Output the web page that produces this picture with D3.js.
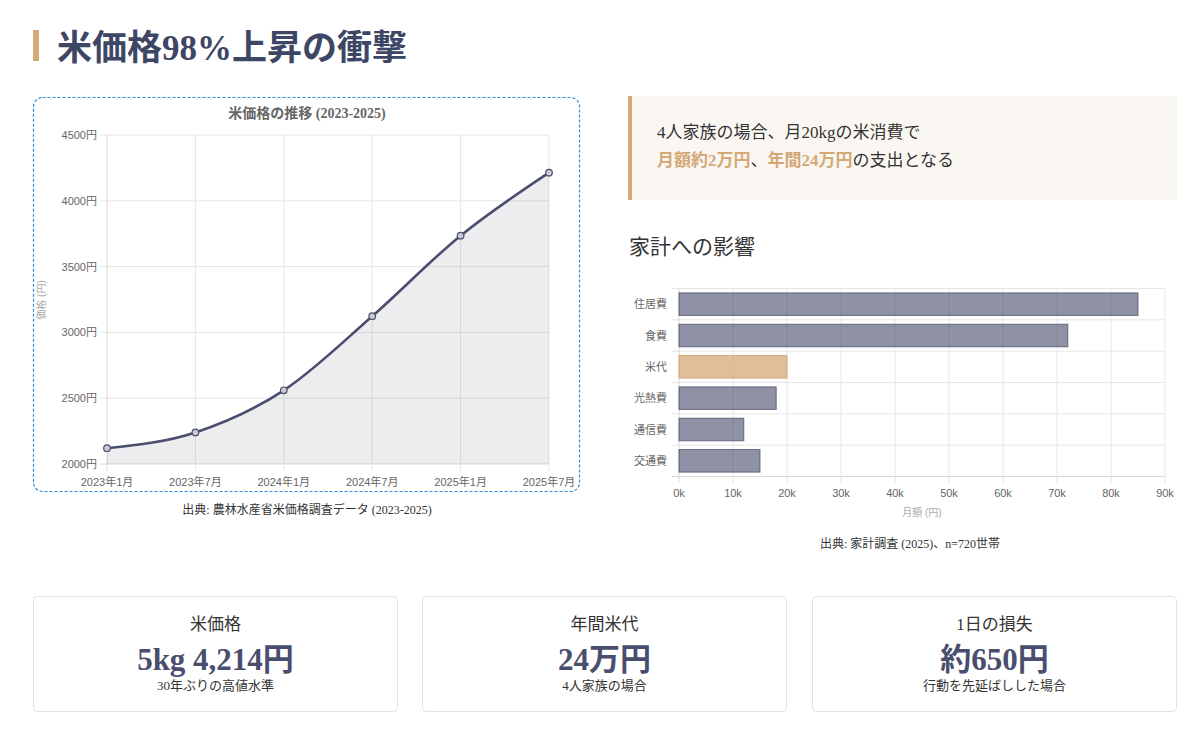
<!DOCTYPE html>
<html><head><meta charset="utf-8">
<script src="https://cdn.jsdelivr.net/npm/d3@7"></script>
<style>
html,body{margin:0;padding:0;background:#fff;}
svg{display:block;}
</style></head>
<body>
<svg id="c" width="1200" height="733"></svg>
<script>
// ---- data ----
const priceMonths = ["2023年1月","2023年7月","2024年1月","2024年7月","2025年1月","2025年7月"];
const priceValues = [2120, 2240, 2560, 3123, 3735, 4214];
const priceTicks = [2000, 2500, 3000, 3500, 4000, 4500];

const budgetCategories = ["住居費","食費","米代","光熱費","通信費","交通費"];
const budgetValues = [85000, 72000, 20000, 18000, 12000, 15000];
const budgetTicks = [0,10000,20000,30000,40000,50000,60000,70000,80000,90000];

const cardTitles = ["米価格","年間米代","1日の損失"];
const cardValues = ["5kg 4,214円","24万円","約650円"];
const cardNotes = ["30年ぶりの高値水準","4人家族の場合","行動を先延ばしした場合"];

// ---- style ----
const SERIF = "'Liberation Serif','DejaVu Serif','Noto Sans CJK JP',serif";
const SANS = "'Liberation Sans','Noto Sans CJK JP',sans-serif";
const NAVY = "#4a4e6e";
const TAN = "#d4a877";
const GRID = "#e6e6e6";

const svg = d3.select("#c");

// Title
svg.append("rect").attr("x",33).attr("y",30).attr("width",6).attr("height",31).attr("fill",TAN);
svg.append("text").attr("x",57).attr("y",60).attr("font-family",SERIF).attr("font-size",35)
  .attr("font-weight","bold").attr("fill","#3e4665").text("米価格98%上昇の衝撃");

// ---- Line chart ----
svg.append("rect").attr("x",33.5).attr("y",97.5).attr("width",546).attr("height",394)
  .attr("rx",9).attr("fill","none").attr("stroke","#2b8be0").attr("stroke-dasharray","3,2").attr("stroke-width",1.2);
svg.append("text").attr("x",307).attr("y",118).attr("text-anchor","middle")
  .attr("font-family",SERIF).attr("font-size",14).attr("font-weight","bold").attr("fill","#666")
  .text("米価格の推移 (2023-2025)");

const x = d3.scalePoint().domain(priceMonths).range([107,549]);
const y = d3.scaleLinear().domain([2000,4500]).range([464,135]);

const lg = svg.append("g");
lg.selectAll(".hg").data(priceTicks).join("line")
  .attr("x1",100).attr("x2",549).attr("y1",d=>y(d)).attr("y2",d=>y(d))
  .attr("stroke",d=>d===2000?"#d8d8d8":GRID).attr("stroke-width",1);
lg.selectAll(".vg").data(priceMonths).join("line")
  .attr("x1",d=>x(d)).attr("x2",d=>x(d)).attr("y1",135).attr("y2",471)
  .attr("stroke",(d,i)=>i===0?"#d8d8d8":GRID).attr("stroke-width",1);

const pts = priceMonths.map((m,i)=>[m,priceValues[i]]);
const curve = d3.curveMonotoneX;
lg.append("path").datum(pts)
  .attr("d", d3.area().x(d=>x(d[0])).y0(y(2000)).y1(d=>y(d[1])).curve(curve))
  .attr("fill","rgba(74,78,110,0.1)");
lg.append("path").datum(pts)
  .attr("d", d3.line().x(d=>x(d[0])).y(d=>y(d[1])).curve(curve))
  .attr("fill","none").attr("stroke",NAVY).attr("stroke-width",2.6);
lg.selectAll(".pt").data(pts).join("circle")
  .attr("cx",d=>x(d[0])).attr("cy",d=>y(d[1])).attr("r",3.3)
  .attr("fill","#c9cad4").attr("stroke",NAVY).attr("stroke-width",1.2);

lg.selectAll(".yl").data(priceTicks).join("text")
  .attr("x",97).attr("y",d=>y(d)+4).attr("text-anchor","end")
  .attr("font-family",SANS).attr("font-size",11).attr("fill","#666").text(d=>d+"円");
lg.selectAll(".xl").data(priceMonths).join("text")
  .attr("x",d=>x(d)).attr("y",486).attr("text-anchor","middle")
  .attr("font-family",SANS).attr("font-size",11).attr("fill","#666").text(d=>d);
lg.append("text").attr("transform","translate(45,300) rotate(-90)").attr("text-anchor","middle")
  .attr("font-family",SANS).attr("font-size",10).attr("fill","#aaa").text("価格 (円)");

svg.append("text").attr("x",307).attr("y",514).attr("text-anchor","middle")
  .attr("font-family",SERIF).attr("font-size",12).attr("fill","#333")
  .text("出典: 農林水産省米価格調査データ (2023-2025)");

// ---- Callout ----
svg.append("rect").attr("x",628).attr("y",96).attr("width",549).attr("height",104).attr("fill","#faf7f2");
svg.append("rect").attr("x",628).attr("y",96).attr("width",4).attr("height",104).attr("fill",TAN);
svg.append("text").attr("x",657).attr("y",138).attr("font-family",SERIF).attr("font-size",17).attr("fill","#333")
  .text("4人家族の場合、月20kgの米消費で");
const t2 = svg.append("text").attr("x",657).attr("y",166).attr("font-family",SERIF).attr("font-size",17).attr("fill","#333");
t2.append("tspan").attr("font-weight","bold").attr("fill",TAN).text("月額約2万円");
t2.append("tspan").text("、");
t2.append("tspan").attr("font-weight","bold").attr("fill",TAN).text("年間24万円");
t2.append("tspan").text("の支出となる");

svg.append("text").attr("x",629).attr("y",254).attr("font-family",SERIF).attr("font-size",21).attr("fill","#333")
  .text("家計への影響");

// ---- Bar chart ----
const bx = d3.scaleLinear().domain([0,90000]).range([679,1165]);
const by = d3.scaleBand().domain(budgetCategories).range([288.5,476.5]).paddingInner(0).paddingOuter(0);
const bg = svg.append("g");
const bounds = budgetCategories.map(c=>by(c)).concat([by.range()[1]]);
bg.selectAll(".bh").data(bounds).join("line")
  .attr("x1",672).attr("x2",1165).attr("y1",d=>d).attr("y2",d=>d)
  .attr("stroke",(d,i)=>i===bounds.length-1?"#d8d8d8":GRID);
bg.selectAll(".bv").data(budgetTicks).join("line")
  .attr("x1",d=>bx(d)).attr("x2",d=>bx(d)).attr("y1",288.5).attr("y2",483)
  .attr("stroke",(d,i)=>i===0?"#d8d8d8":GRID);
const bh = by.bandwidth()*0.72;
bg.selectAll(".bar").data(budgetCategories).join("rect")
  .attr("x",bx(0)).attr("y",c=>by(c)+(by.bandwidth()-bh)/2)
  .attr("width",(c,i)=>bx(budgetValues[i])-bx(0)).attr("height",bh)
  .attr("fill",c=>c==="米代"?"rgba(212,168,119,0.75)":"rgba(74,78,110,0.62)")
  .attr("stroke",c=>c==="米代"?"rgba(212,168,119,0.9)":"rgba(74,78,110,0.75)").attr("stroke-width",1);
bg.selectAll(".bl").data(budgetCategories).join("text")
  .attr("x",667).attr("y",c=>by(c)+by.bandwidth()/2+4).attr("text-anchor","end")
  .attr("font-family",SANS).attr("font-size",11).attr("fill","#666").text(c=>c);
bg.selectAll(".bt").data(budgetTicks).join("text")
  .attr("x",d=>bx(d)).attr("y",497).attr("text-anchor","middle")
  .attr("font-family",SANS).attr("font-size",11).attr("fill","#666").text(d=>(d/1000)+"k");
bg.append("text").attr("x",922).attr("y",516).attr("text-anchor","middle")
  .attr("font-family",SANS).attr("font-size",10).attr("fill","#aaa").text("月額 (円)");
svg.append("text").attr("x",910).attr("y",548).attr("text-anchor","middle")
  .attr("font-family",SERIF).attr("font-size",12).attr("fill","#333")
  .text("出典: 家計調査 (2025)、n=720世帯");

// ---- Cards ----
const cardX = [33,422,812];
const cg = svg.selectAll(".card").data(cardTitles).join("g").attr("transform",(d,i)=>`translate(${cardX[i]},596)`);
cg.append("rect").attr("x",0.5).attr("y",0.5).attr("width",364).attr("height",115).attr("rx",4)
  .attr("fill","#fff").attr("stroke","#e2e2e2");
cg.append("text").attr("x",182.5).attr("y",34).attr("text-anchor","middle")
  .attr("font-family",SERIF).attr("font-size",17).attr("fill","#333").text(d=>d);
cg.append("text").attr("x",182.5).attr("y",74).attr("text-anchor","middle")
  .attr("font-family",SERIF).attr("font-size",31).attr("font-weight","bold").attr("fill",NAVY)
  .text((d,i)=>cardValues[i]);
cg.append("text").attr("x",182.5).attr("y",94).attr("text-anchor","middle")
  .attr("font-family",SERIF).attr("font-size",13).attr("fill","#333").text((d,i)=>cardNotes[i]);
</script>
</body></html>
